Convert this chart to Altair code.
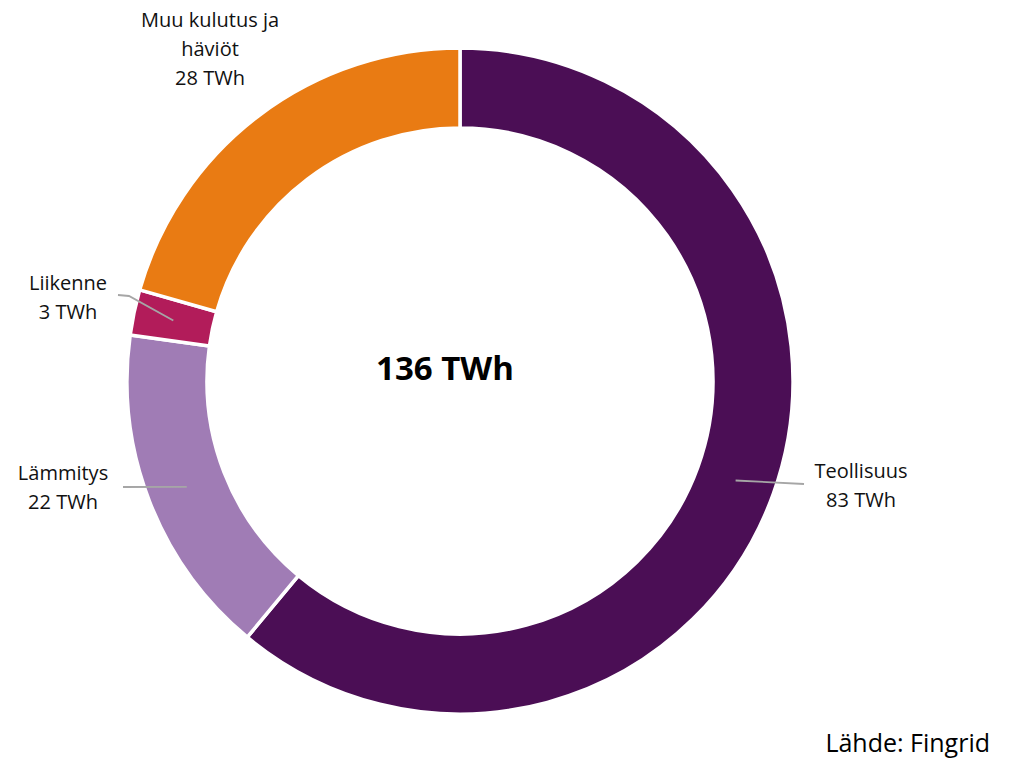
import math
import altair as alt
import pandas as pd

# ---- data ----
categories = ["Teollisuus", "Lämmitys", "Liikenne", "Muu kulutus ja häviöt"]
values = [83, 22, 3, 28]
label_lines = ["Teollisuus\n83 TWh", "Lämmitys\n22 TWh", "Liikenne\n3 TWh", "Muu kulutus ja\nhäviöt\n28 TWh"]
colors = ["#4B0E55", "#A07CB5", "#B21C5A", "#E97B13"]
total_label = "136 TWh"
source_label = "Lähde: Fingrid"

# ---- layout (chart pixel coordinates) ----
W, H = 1004, 752
CX, CY = 452, 373
R_OUT, R_IN = 333, 253
R_MID = (R_OUT + R_IN) / 2
FONT = "Open Sans"

# top of each label block
label_pos = {
    "Teollisuus": (853, 454),
    "Lämmitys": (55, 456),
    "Liikenne": (60, 266),
    "Muu kulutus ja häviöt": (202, 3),
}
leader_extra = {
    "Teollisuus": [(796, 476)],
    "Lämmitys": [(115, 479)],
    "Liikenne": [(121, 288), (110, 287)],
}

df = pd.DataFrame({"cat": categories, "value": values, "idx": range(len(values)),
                   "label": label_lines})

# leader lines start at the slice's mid-angle, mid-ring
tot = sum(values)
rows = []
cum = 0
for c, v in zip(categories, values):
    mid = (cum + v / 2) / tot * 2 * math.pi
    cum += v
    if c in leader_extra:
        sx = CX + R_MID * math.sin(mid)
        sy = CY - R_MID * math.cos(mid)
        pts = [(sx, sy)] + leader_extra[c]
        for i, (px, py) in enumerate(pts):
            rows.append({"cat": c, "o": i, "px": px, "py": py})
lines_df = pd.DataFrame(rows)

text_df = pd.DataFrame({
    "label": label_lines,
    "px": [label_pos[c][0] for c in categories],
    "py": [label_pos[c][1] for c in categories],
})

xs = alt.Scale(domain=[0, W], range=[0, W], nice=False, zero=False)
ys = alt.Scale(domain=[0, H], range=[0, H], nice=False, zero=False)

arcs = alt.Chart(df).mark_arc(radius=R_OUT, radius2=R_IN, stroke="white", strokeWidth=3.5).encode(
    theta=alt.Theta("value:Q", stack=True),
    order=alt.Order("idx:Q"),
    color=alt.Color("cat:N", scale=alt.Scale(domain=categories, range=colors), legend=None),
    x=alt.value(CX),
    y=alt.value(CY),
)

leaders = alt.Chart(lines_df).mark_line(color="#A6A6A6", strokeWidth=1.8).encode(
    x=alt.X("px:Q", scale=xs, axis=None),
    y=alt.Y("py:Q", scale=ys, axis=None),
    detail="cat:N",
    order="o:Q",
)

labels = alt.Chart(text_df).mark_text(
    font=FONT, fontSize=20, lineHeight=29, align="center", baseline="top", color="#111111",
    lineBreak="\n",
).encode(
    x=alt.X("px:Q", scale=xs, axis=None),
    y=alt.Y("py:Q", scale=ys, axis=None),
    text="label:N",
)

center = alt.Chart(pd.DataFrame({"t": [total_label]})).mark_text(
    font=FONT, fontSize=33, fontWeight="bold", align="center", baseline="middle", color="#000000",
).encode(x=alt.value(437), y=alt.value(362), text="t:N")

source = alt.Chart(pd.DataFrame({"t": [source_label]})).mark_text(
    font=FONT, fontSize=25, align="right", baseline="middle", color="#000000",
).encode(x=alt.value(982), y=alt.value(736), text="t:N")

chart = alt.layer(arcs, leaders, labels, center, source).properties(
    width=W, height=H, padding=0, autosize=alt.AutoSizeParams(type="none"),
).configure_view(stroke=None)

chart.save("out.html", embed_options={"renderer": "svg", "actions": False})
